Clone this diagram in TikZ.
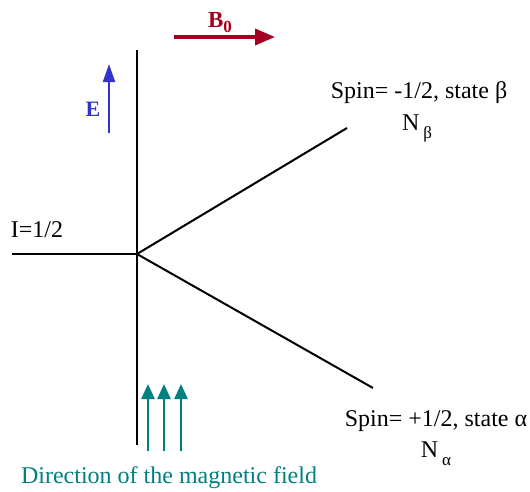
\documentclass[tikz,border=0pt]{standalone}
\usepackage{fontspec}
\setmainfont{Liberation Serif}
\usetikzlibrary{arrows.meta}
\definecolor{fieldred}{HTML}{A50021}
\definecolor{eblue}{HTML}{3333CC}
\definecolor{fieldteal}{HTML}{008080}
\newcommand{\lowsub}[1]{\,\raisebox{-0.35em}{\fontsize{17}{17}\selectfont #1}}

\begin{document}
\begin{tikzpicture}[
  x=1pt, y=-1pt,
  font=\fontsize{24}{28}\selectfont,
  level/.style={draw=black, line width=2pt},
  lbl/.style={anchor=base, inner sep=0pt},
  barrow/.style={-{Triangle[length=20pt,width=16pt]}, draw=fieldred, line width=3.5pt},
  earrow/.style={-{Triangle[length=18pt,width=12pt]}, draw=eblue, line width=2pt},
  farrow/.style={-{Triangle[length=15pt,width=13pt]}, draw=fieldteal, line width=2.5pt},
]
\useasboundingbox (0,0) rectangle (530,491);

% axes and energy levels
\coordinate (C) at (137,254);
\coordinate (axtop) at (137,50);
\coordinate (axbot) at (137,445);
\coordinate (lvl0) at (12,254);
\coordinate (lvlbeta) at (347,128);
\coordinate (lvlalpha) at (373,388);

\draw[level] (axtop) -- (axbot);
\draw[level] (lvl0) -- (C);
\draw[level] (C) -- (lvlbeta);
\draw[level] (C) -- (lvlalpha);

% field and energy arrows
\coordinate (b0s) at (174,37);
\coordinate (b0e) at (275,37);
\draw[barrow] (b0s) -- (b0e);
\node[lbl, text=fieldred, font=\fontsize{23}{26}\selectfont\bfseries] (B0) at (220,27) {B\raisebox{-0.25em}{\fontsize{17}{17}\selectfont 0}};

\coordinate (es) at (109,133);
\coordinate (ee) at (109,64);
\draw[earrow] (es) -- (ee);
\node[lbl, text=eblue, font=\fontsize{22}{26}\selectfont\bfseries] (E) at (93,116) {E};

\foreach \i/\xx in {1/148,2/164,3/181}{
  \coordinate (fs\i) at (\xx,451);
  \coordinate (fe\i) at (\xx,384);
  \draw[farrow] (fs\i) -- (fe\i);
}

% labels
\node[lbl] (I) at (37,237) {I=1/2};
\node[lbl] (spinb) at (419,98) {Spin= -1/2, state β};
\node[lbl] (Nb) at (417,130) {N\lowsub{β}};
\node[lbl] (spina) at (436,426) {Spin= +1/2, state α};
\node[lbl] (Na) at (436,457) {N\lowsub{α}};
\node[lbl, text=fieldteal] (dir) at (169,483) {Direction of the magnetic field};

\end{tikzpicture}
\end{document}
